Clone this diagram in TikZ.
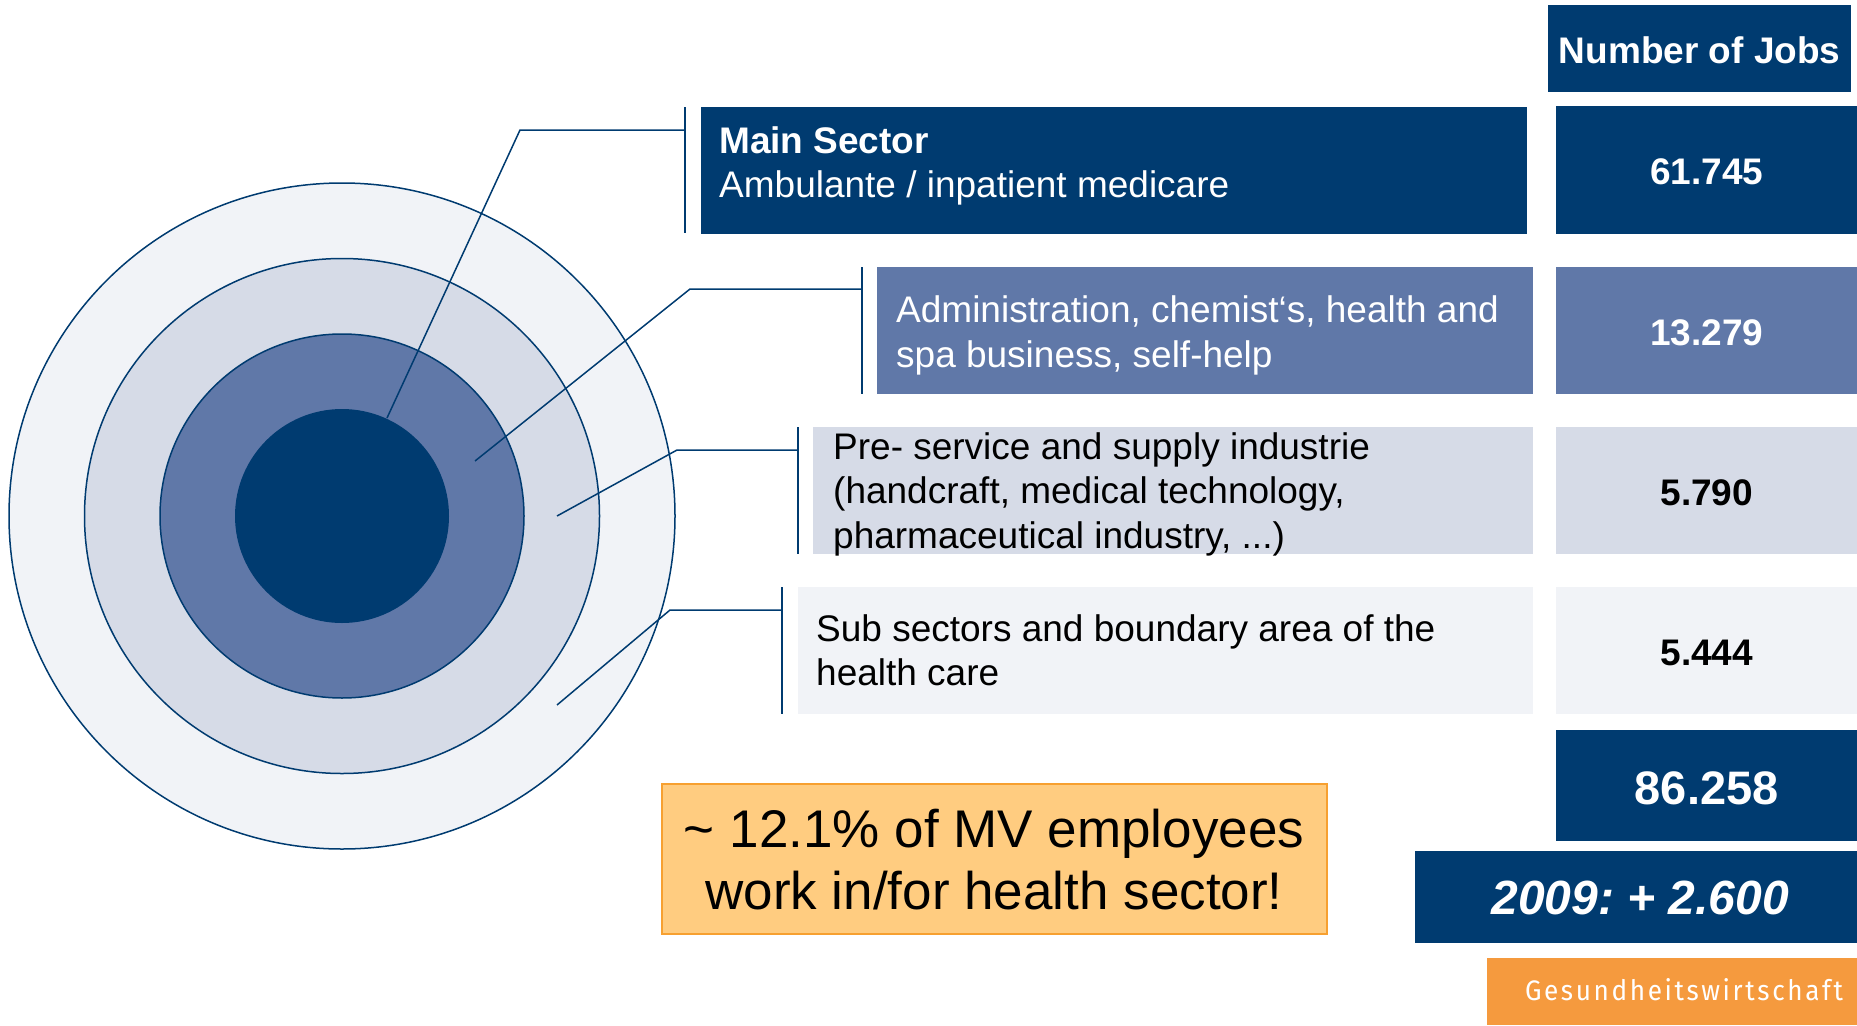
\documentclass[tikz,border=0pt]{standalone}
\usepackage{fontspec}
\setmainfont{Liberation Sans}
\newfontfamily\tagfont[LetterSpace=10]{Fira Sans}
\usepackage{graphicx}
\definecolor{navy}{HTML}{003B70}
\definecolor{midblue}{HTML}{6078A8}
\definecolor{lightblue}{HTML}{D6DBE7}
\definecolor{vlight}{HTML}{F1F3F7}
\definecolor{calloutfill}{HTML}{FFCC80}
\definecolor{calloutline}{HTML}{F7A030}
\definecolor{tagorange}{HTML}{F59A3E}
\newcommand{\lowr}[2]{\raisebox{-#1}[\height][\depth]{#2}}
\begin{document}
\frenchspacing
\begin{tikzpicture}[x=1pt,y=-1pt,
  boxs/.style={rectangle, inner sep=0pt, anchor=north west, draw=none},
  ring/.style={circle, inner sep=0pt, draw=navy, line width=1.5pt},
  lbl/.style={anchor=base west, inner sep=0pt, font=\fontsize{37}{44}\selectfont},
  numtxt/.style={font=\fontsize{37}{44}\selectfont\bfseries},
  lead/.style={draw=navy, line width=1.5pt},
  brk/.style={draw=navy, line width=1.8pt},
  calltxt/.style={anchor=base, inner sep=0pt, font=\fontsize{53}{62}\selectfont}
]
\useasboundingbox (0,0) rectangle (1857,1025);

% concentric circles
\node[ring, fill=vlight, minimum size=666pt] (r4) at (342,516) {};
\node[ring, fill=lightblue, minimum size=515pt] (r3) at (342,516) {};
\node[ring, fill=midblue, minimum size=364pt] (r2) at (342,516) {};
\node[circle, inner sep=0pt, fill=navy, minimum size=214pt] (r1) at (342,516) {};

% leader coordinates
\coordinate (s1) at (387,418);
\coordinate (k1) at (520,130);
\coordinate (e1) at (685,130);
\coordinate (s2) at (475,461);
\coordinate (k2) at (690,289);
\coordinate (e2) at (862,289);
\coordinate (s3) at (557,516);
\coordinate (k3) at (677,450);
\coordinate (e3) at (798,450);
\coordinate (s4) at (557,705);
\coordinate (k4) at (670,610);
\coordinate (e4) at (782,610);

\draw[lead] (s1) -- (k1) -- (e1);
\draw[lead] (s2) -- (k2) -- (e2);
\draw[lead] (s3) -- (k3) -- (e3);
\draw[lead] (s4) -- (k4) -- (e4);

% bracket lines
\coordinate (b1t) at (685,107); \coordinate (b1b) at (685,233);
\coordinate (b2t) at (862,267); \coordinate (b2b) at (862,394);
\coordinate (b3t) at (798,427); \coordinate (b3b) at (798,554);
\coordinate (b4t) at (782,587); \coordinate (b4b) at (782,714);
\draw[brk] (b1t) -- (b1b);
\draw[brk] (b2t) -- (b2b);
\draw[brk] (b3t) -- (b3b);
\draw[brk] (b4t) -- (b4b);

% sector boxes
\node[boxs, fill=navy, minimum width=826pt, minimum height=127pt] (m1) at (701,107) {};
\node[boxs, fill=midblue, minimum width=656pt, minimum height=127pt] (m2) at (877,267) {};
\node[boxs, fill=lightblue, minimum width=720pt, minimum height=127pt] (m3) at (813,427) {};
\node[boxs, fill=vlight, minimum width=735pt, minimum height=127pt] (m4) at (798,587) {};

% sector texts
\node[lbl, text=white, font=\fontsize{37}{44}\selectfont\bfseries] (t1a) at (719,153) {Main Sector};
\node[lbl, text=white] (t1b) at (719,197) {Ambulante / inpatient medicare};
\node[lbl, text=white] (t2a) at (896,322) {Administration, chemist‘s, health and};
\node[lbl, text=white] (t2b) at (896,367) {spa business, self-help};
\node[lbl] (t3a) at (833,459) {Pre- service and supply industrie};
\node[lbl] (t3b) at (833,503.5) {(handcraft, medical technology,};
\node[lbl] (t3c) at (833,548) {pharmaceutical industry, ...)};
\node[lbl] (t4a) at (816,641) {Sub sectors and boundary area of the};
\node[lbl] (t4b) at (816,685) {health care};

% number column
\node[boxs, fill=navy, minimum width=303pt, minimum height=87pt, text=white, numtxt] (hdr) at (1548,5) {\lowr{2pt}{Number of Jobs}};
\node[boxs, fill=navy, minimum width=301pt, minimum height=128pt, text=white, numtxt] (n1) at (1556,106) {\lowr{2pt}{61.745}};
\node[boxs, fill=midblue, minimum width=301pt, minimum height=127pt, text=white, numtxt] (n2) at (1556,267) {\lowr{2pt}{13.279}};
\node[boxs, fill=lightblue, minimum width=301pt, minimum height=127pt, text=black, numtxt] (n3) at (1556,427) {\lowr{2pt}{5.790}};
\node[boxs, fill=vlight, minimum width=301pt, minimum height=127pt, text=black, numtxt] (n4) at (1556,587) {\lowr{2pt}{5.444}};
\node[boxs, fill=navy, minimum width=301pt, minimum height=111pt, text=white, font=\fontsize{47}{50}\selectfont\bfseries] (tot) at (1556,730) {\lowr{3pt}{86.258}};
\node[boxs, fill=navy, minimum width=442pt, minimum height=92pt, text=white, font=\fontsize{48}{50}\selectfont\bfseries\itshape] (grow) at (1415,851) {\hspace*{8pt}\lowr{1pt}{2009: + 2.600}};

% tag
\node[boxs, fill=tagorange, minimum width=370pt, minimum height=67pt] (tag) at (1487,958) {};
\node[inner sep=0pt, text=white] (tagtxt) at (1684,990) {\resizebox{318pt}{22pt}{\tagfont Gesundheitswirtschaft}};

% callout
\node[boxs, fill=calloutfill, draw=calloutline, line width=1.5pt, minimum width=665pt, minimum height=150pt] (call) at (661,783) {};
\node[calltxt] (c1) at (994,847) {\textasciitilde{} 12.1\% of MV employees};
\node[calltxt] (c2) at (994,909.5) {work in/for health sector!};
\end{tikzpicture}
\end{document}
